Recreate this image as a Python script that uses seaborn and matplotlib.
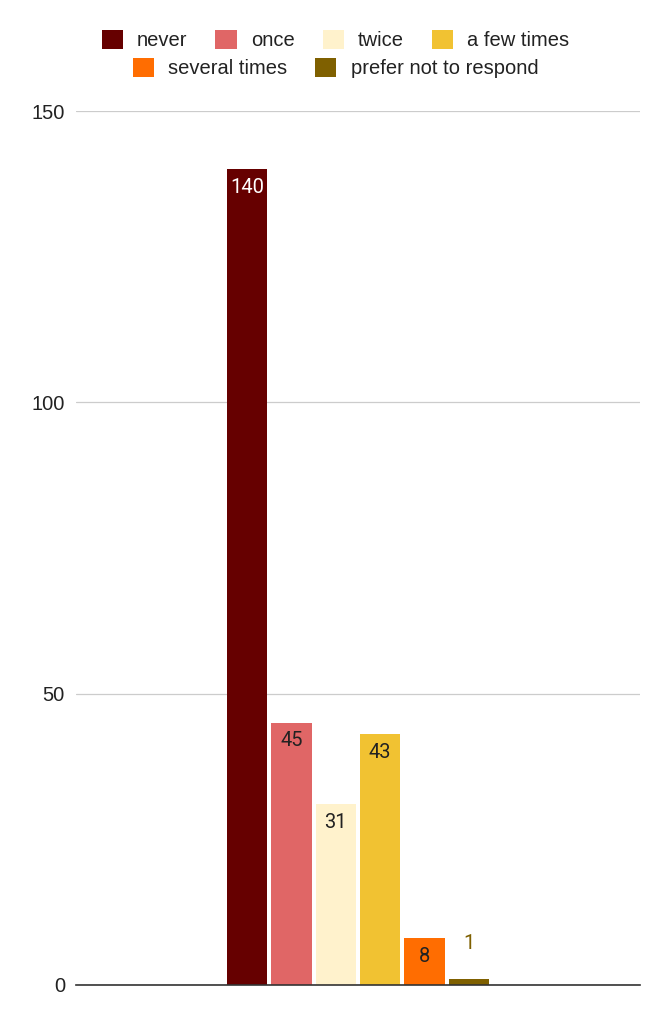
import matplotlib
matplotlib.use("Agg")
import matplotlib.pyplot as plt
from matplotlib.patches import Patch
import seaborn as sns
import pandas as pd

responses = ["never", "once", "twice", "a few times", "several times", "prefer not to respond"]
counts = [140, 45, 31, 43, 8, 1]
colors = ["#660000", "#E06666", "#FFF2CC", "#F1C232", "#FF6D01", "#7F6000"]
label_colors = ["white", "#222222", "#222222", "#222222", "#222222", "#7F6000"]
yticks = [0, 50, 100, 150]

df = pd.DataFrame({"group": [""] * len(responses), "response": responses, "count": counts})

sns.set_theme(style="white")
plt.rcParams["font.family"] = ["Liberation Sans", "DejaVu Sans"]

FS = 14.5

fig = plt.figure(figsize=(6.71, 10.24), dpi=100)
ax = fig.add_axes([0.1133, 0.0381, 0.8405, 0.8535])

sns.barplot(data=df, x="group", y="count", hue="response", hue_order=responses,
            palette=colors, width=0.472, gap=0.09, ax=ax, legend=False,
            saturation=1, edgecolor="none")

ax.set_ylim(0, 150)
ax.set_xlim(-0.5, 0.5)
ax.set_yticks(yticks)
ax.set_yticklabels([str(t) for t in yticks], fontsize=FS, color="#222222")
ax.tick_params(axis="y", length=0, pad=8)
ax.set_xticks([])
ax.set_xlabel("")
ax.set_ylabel("")
for s in ["top", "right", "left"]:
    ax.spines[s].set_visible(False)
ax.spines["bottom"].set_color("#333333")
ax.spines["bottom"].set_linewidth(1.2)
ax.yaxis.grid(True, color="#CCCCCC", linewidth=0.9)
ax.set_axisbelow(True)

# data labels
for cont, val, lc in zip(ax.containers, counts, label_colors):
    for bar in cont:
        x = bar.get_x() + bar.get_width() / 2
        h = bar.get_height()
        if h >= 5:
            ax.annotate(str(val), (x, h), xytext=(0, -6), textcoords="offset points",
                        ha="center", va="top", fontsize=FS, color=lc, family="Roboto")
        else:
            ax.annotate(str(val), (x, h), xytext=(0, 19), textcoords="offset points",
                        ha="center", va="bottom", fontsize=FS, color=lc, family="Roboto")

handles = [Patch(facecolor=c, edgecolor="none") for c in colors]
kw = dict(loc="center", frameon=False, fontsize=FS, handlelength=1.05, handleheight=1.05,
          columnspacing=1.4, handletextpad=0.7, borderpad=0, labelcolor="#222222")
leg1 = fig.legend(handles[:4], responses[:4], bbox_to_anchor=(0.5, 0.961), ncol=4, **kw)
leg2 = fig.legend(handles[4:], responses[4:], bbox_to_anchor=(0.5, 0.9336), ncol=2, **kw)

fig.savefig("out.png", dpi=100)
